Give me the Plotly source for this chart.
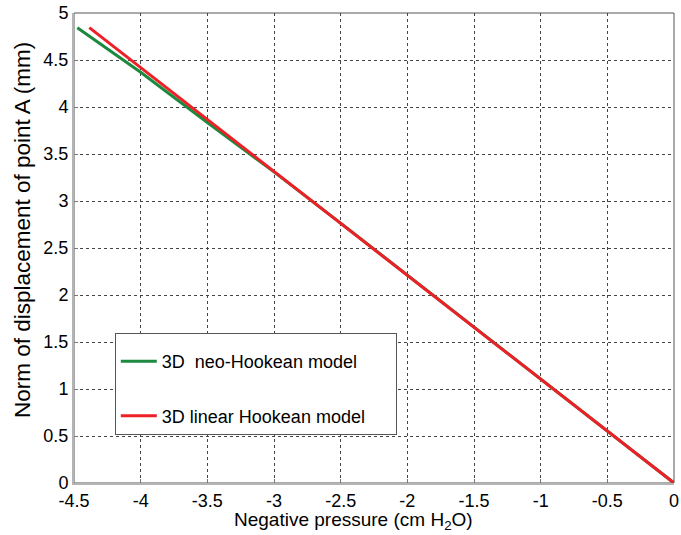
import plotly.graph_objects as go

# Data
pressure_neo = [0, -0.5, -1.0, -1.5, -2.0, -2.5, -3.0, -3.5, -4.0, -4.475]
disp_neo = [0, 0.553, 1.106, 1.66, 2.215, 2.765, 3.31, 3.835, 4.37, 4.844]
pressure_lin = [0, -4.385]
disp_lin = [0, 4.844]

x_ticks = [-4.5, -4, -3.5, -3, -2.5, -2, -1.5, -1, -0.5, 0]
x_tick_labels = ["-4.5", "-4", "-3.5", "-3", "-2.5", "-2", "-1.5", "-1", "-0.5", "0"]
y_ticks = [0, 0.5, 1, 1.5, 2, 2.5, 3, 3.5, 4, 4.5, 5]
y_tick_labels = ["0", "0.5", "1", "1.5", "2", "2.5", "3", "3.5", "4", "4.5", "5"]

FONT = "Arial, 'Liberation Sans', sans-serif"
PAD = "\u00a0" * 5

fig = go.Figure()
fig.add_trace(go.Scatter(x=pressure_neo, y=disp_neo, mode="lines",
                         name="3D  neo-Hookean model" + PAD, legendgroup="a",
                         line=dict(color="#1b8a3e", width=3)))
fig.add_trace(go.Scatter(x=pressure_lin, y=disp_lin, mode="lines",
                         name="3D linear Hookean model" + PAD, legendgroup="b",
                         line=dict(color="#ee2027", width=3)))

axis_common = dict(
    showgrid=True, gridcolor="#444444", griddash="dot", gridwidth=1,
    showline=True, linecolor="#b4b4b4", linewidth=2,
    ticks="inside", ticklen=4, tickcolor="#777777",
    zeroline=False, tickfont=dict(family=FONT, size=18, color="#000"),
    ticklabeloverflow="allow",
)

fig.update_xaxes(range=[-4.5, 0], tickvals=x_ticks, ticktext=x_tick_labels, **axis_common)
fig.update_yaxes(range=[0, 5], tickvals=y_ticks, ticktext=y_tick_labels, **axis_common)

fig.add_shape(type="rect", xref="paper", yref="paper", x0=0, y0=0, x1=1, y1=1,
              line=dict(color="#555555", width=1), layer="below")

fig.add_annotation(text="Negative pressure (cm H<sub>2</sub>O)", xref="paper", yref="paper",
                   x=0.465, y=-0.081, xanchor="center", yanchor="middle", showarrow=False,
                   font=dict(family=FONT, size=19, color="#000"))
fig.add_annotation(text="Norm of displacement of point A (mm)", xref="paper", yref="paper",
                   x=-0.0867, y=0.538, xanchor="center", yanchor="middle", showarrow=False,
                   textangle=-90, font=dict(family=FONT, size=22.5, color="#000"))

fig.update_layout(
    width=681, height=535,
    margin=dict(l=74, r=7, t=13, b=52, autoexpand=False),
    plot_bgcolor="white", paper_bgcolor="white",
    font=dict(family=FONT, size=18, color="#000"),
    legend=dict(x=0.068, y=0.319, xanchor="left", yanchor="top",
                bgcolor="white", bordercolor="#555555", borderwidth=1,
                tracegroupgap=28, font=dict(family=FONT, size=18),
                title=dict(text=" ", font=dict(size=7)),
                itemwidth=36),
    showlegend=True,
)

fig.write_html("out.html", config={"displayModeBar": False},
               post_script="document.body.style.margin='0';")
